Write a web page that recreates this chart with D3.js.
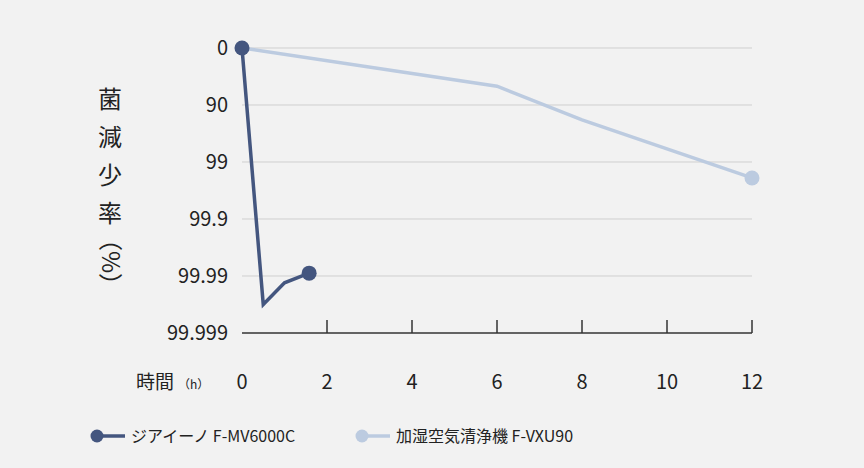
<!DOCTYPE html><html><head><meta charset="utf-8"><script src="https://cdn.jsdelivr.net/npm/d3@7"></script>
<style>body{margin:0;background:#f2f2f2}svg{font-family:"Noto Sans CJK JP","Noto Sans",sans-serif}</style></head><body><svg width="864" height="468"></svg>
<script>
const yTickLabels=["0","90","99","99.9","99.99","99.999"];
const xTicks=[0,2,4,6,8,10,12];
const seriesNames=["ジアイーノ F-MV6000C","加湿空気清浄機 F-VXU90"];
const seriesColors=["#44567f","#bccbe0"];
const darkHours=[0,0.5,1,1.58];
const darkLog=[0,4.5,4.12,3.95];
const lightHours=[0,6,8,12];
const lightLog=[0,0.67,1.26,2.28];
const svg=d3.select("svg");
const x=d3.scaleLinear().domain([0,12]).range([242,752]);
const y=d3.scaleLinear().domain([0,5]).range([48,333]);
yTickLabels.forEach((t,i)=>{
 if(i<5) svg.append("line").attr("x1",242).attr("x2",752).attr("y1",y(i)).attr("y2",y(i)).attr("stroke","#cfcfcf");
 svg.append("text").attr("x",228).attr("y",y(i)).attr("dy","0.35em").attr("text-anchor","end").attr("font-size",20).attr("fill","#222").text(t);
});
svg.append("line").attr("x1",242).attr("x2",752).attr("y1",y(5)).attr("y2",y(5)).attr("stroke","#333").attr("stroke-width",1.5);
xTicks.forEach(t=>{
 if(t>0) svg.append("line").attr("x1",x(t)).attr("x2",x(t)).attr("y1",y(5)-13).attr("y2",y(5)).attr("stroke","#333").attr("stroke-width",1.5);
 svg.append("text").attr("x",x(t)).attr("y",382).attr("dy","0.35em").attr("text-anchor","middle").attr("font-size",20).attr("fill","#222").text(t);
});
const lab=svg.append("text").attr("x",136).attr("y",382).attr("dy","0.35em").attr("font-size",19).attr("fill","#222");
lab.append("tspan").text("時間");lab.append("tspan").attr("font-size",12).attr("dx",4).text("（h）");
const ylab="菌減少率";
[...ylab].forEach((c,i)=>svg.append("text").attr("x",110).attr("y",100+i*38).attr("dy","0.35em").attr("text-anchor","middle").attr("font-size",24).attr("fill","#222").text(c));
svg.append("text").attr("transform","translate(110,262) rotate(90)").attr("text-anchor","middle").attr("dy","0.35em").attr("font-size",24).attr("fill","#222").text("（%）");
const line=d3.line().x(d=>x(d[0])).y(d=>y(d[1]));
const light=lightHours.map((h,i)=>[h,lightLog[i]]), dark=darkHours.map((h,i)=>[h,darkLog[i]]);
svg.append("path").attr("d",line(light)).attr("fill","none").attr("stroke",seriesColors[1]).attr("stroke-width",3.5);
svg.append("circle").attr("cx",x(12)).attr("cy",y(lightLog[3])).attr("r",7.5).attr("fill",seriesColors[1]);
svg.append("path").attr("d",line(dark)).attr("fill","none").attr("stroke",seriesColors[0]).attr("stroke-width",3.5);
[dark[0],dark[3]].forEach(d=>svg.append("circle").attr("cx",x(d[0])).attr("cy",y(d[1])).attr("r",7.5).attr("fill",seriesColors[0]));
[[97,seriesNames[0],seriesColors[0]],[362,seriesNames[1],seriesColors[1]]].forEach(([lx,n,c])=>{
 svg.append("line").attr("x1",lx).attr("x2",lx+28).attr("y1",436).attr("y2",436).attr("stroke",c).attr("stroke-width",3.5);
 svg.append("circle").attr("cx",lx).attr("cy",436).attr("r",6.5).attr("fill",c);
 svg.append("text").attr("x",lx+34).attr("y",436).attr("dy","0.35em").attr("font-size",16).attr("fill","#222").text(n);
});
</script></body></html>
